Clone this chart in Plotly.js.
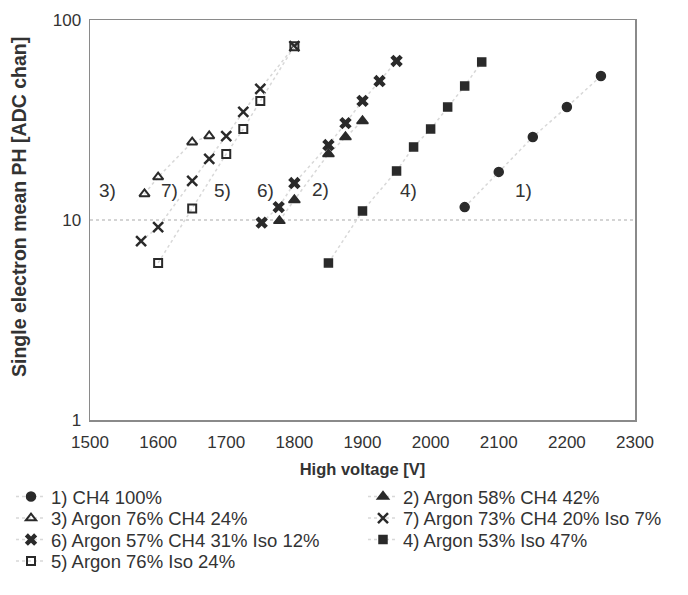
<!DOCTYPE html>
<html>
<head>
<meta charset="utf-8">
<script src="https://cdn.plot.ly/plotly-3.0.1.min.js"></script>
<style>html,body{margin:0;padding:0;background:#fff;}#chart{width:688px;height:595px;}</style>
</head>
<body>
<div id="chart"></div>
<script>
// Series data (High voltage [V] vs single electron mean PH [ADC chan])
var names = ["1) CH4 100%", "2) Argon 58% CH4 42%", "3) Argon 76% CH4 24%", "7) Argon 73% CH4 20% Iso 7%",
             "6) Argon 57% CH4 31% Iso 12%", "4) Argon 53% Iso 47%", "5) Argon 76% Iso 24%"];
// legend grid slot of each series (row, column)
var legendRow = [0, 0, 1, 1, 2, 2, 3];
var legendColumn = [0, 1, 0, 1, 0, 1, 0];

var s1x = [2050, 2100, 2150, 2200, 2250];
var s1y = [11.6, 17.4, 26.0, 36.7, 52.5];

var s2x = [1778, 1800, 1850, 1875, 1900];
var s2y = [9.9, 12.6, 21.4, 26.0, 31.3];

var s3x = [1580, 1600, 1650, 1675];
var s3y = [13.5, 16.4, 24.5, 26.3];

var s7x = [1575, 1600, 1650, 1675, 1700, 1725, 1750, 1800];
var s7y = [7.85, 9.2, 15.7, 20.2, 26.3, 34.7, 45.2, 74];

var s6x = [1752, 1777, 1800, 1850, 1875, 1900, 1925, 1950];
var s6y = [9.7, 11.6, 15.3, 23.7, 30.5, 39.4, 49.5, 62.4];

var s4x = [1850, 1900, 1950, 1975, 2000, 2025, 2050, 2075];
var s4y = [6.1, 11.1, 17.6, 23.2, 28.5, 36.7, 46.8, 61.7];

var s5x = [1600, 1650, 1700, 1725, 1750, 1800];
var s5y = [6.1, 11.4, 21.4, 28.5, 39.4, 74];

var labelText = ["3)", "7)", "5)", "6)", "2)", "4)", "1)"];
var labelX = [1526, 1617, 1694, 1758, 1838, 1968, 2136];
var labelY = [14, 14, 14, 14, 14.2, 14, 14];

var xTicks = [1500, 1600, 1700, 1800, 1900, 2000, 2100, 2200, 2300];
var yTicks = [1, 10, 100];
var yTitle = "Single electron mean PH [ADC chan]";

var W = 688, H = 595;
var rowY = [497, 518.5, 540, 561.5];   // legend row centres (px from top)
var colX = [11, 363];                  // legend left edges (px)

var dark = "#2a2a2a";
var lineStyle = {color: "#d8d8d8", width: 1.5, dash: "dot"};

function legendId(i) { return i === 0 ? "legend" : "legend" + (i + 1); }

function tr(i, x, y, symbol, size, extra) {
  var m = {symbol: symbol, size: size, color: dark, line: {color: dark, width: 1.5}};
  if (extra) for (var k in extra) m[k] = extra[k];
  return {x: x, y: y, name: names[i], legend: legendId(i),
          type: "scatter", mode: "lines+markers", line: lineStyle, marker: m, cliponaxis: false};
}

var data = [
  tr(0, s1x, s1y, "circle", 9),
  tr(1, s2x, s2y, "triangle-up", 10),
  tr(2, s3x, s3y, "triangle-up-open", 9, {line: {color: dark, width: 2}}),
  tr(3, s7x, s7y, "x-thin-open", 10, {line: {color: dark, width: 2.5}}),
  tr(4, s6x, s6y, "x", 11, {line: {color: dark, width: 0}}),
  tr(5, s4x, s4y, "square", 8),
  tr(6, s5x, s5y, "square-open", 8, {line: {color: dark, width: 2}})
];

var annotations = labelText.map(function (t, i) {
  return {x: labelX[i], y: Math.log10(labelY[i]), xref: "x", yref: "y", text: t, showarrow: false,
          font: {family: "Liberation Sans, Arial, sans-serif", size: 19, color: "#333"}};
});
// rotated y-axis title, placed left of the tick labels
annotations.push({
  text: "<b>" + yTitle + "</b>", textangle: -90, showarrow: false,
  xref: "paper", yref: "paper", x: (19 - 90) / 545, y: (420 - 207) / 400,
  xanchor: "center", yanchor: "middle",
  font: {family: "Liberation Sans, Arial, sans-serif", size: 19.5, color: "#333"}
});

var layout = {
  width: W, height: H,
  margin: {l: 90, r: 53, t: 20, b: 175, autoexpand: false},
  paper_bgcolor: "#fff", plot_bgcolor: "#fff",
  font: {family: "Liberation Sans, Arial, sans-serif", size: 17, color: "#333"},
  showlegend: true,
  xaxis: {
    range: [1500, 2300], tickvals: xTicks, ticks: "", showgrid: false, zeroline: false,
    showline: true, mirror: true, linecolor: "#8a8a8a", linewidth: 1.5,
    tickfont: {size: 17}, ticklabelstandoff: 6,
    title: {text: "<b>High voltage [V]</b>", font: {size: 16.5}, standoff: 12}
  },
  yaxis: {
    type: "log", range: [0, 2], tickvals: yTicks, ticktext: ["1", "10", "100"], ticks: "",
    showgrid: true, gridcolor: "#d4d4d4", griddash: "dot", gridwidth: 1.5, zeroline: false,
    showline: true, mirror: true, linecolor: "#8a8a8a", linewidth: 1.5,
    tickfont: {size: 17}, ticklabelstandoff: 4
  },
  annotations: annotations
};

names.forEach(function (n, i) {
  layout[legendId(i)] = {
    orientation: "v", xref: "container", yref: "container",
    x: colX[legendColumn[i]] / W, y: 1 - rowY[legendRow[i]] / H,
    xanchor: "left", yanchor: "middle",
    font: {size: 18.5, color: "#333"}, itemwidth: 30, bgcolor: "rgba(0,0,0,0)"
  };
});

Plotly.newPlot("chart", data, layout, {displayModeBar: false, staticPlot: true});
</script>
</body>
</html>
